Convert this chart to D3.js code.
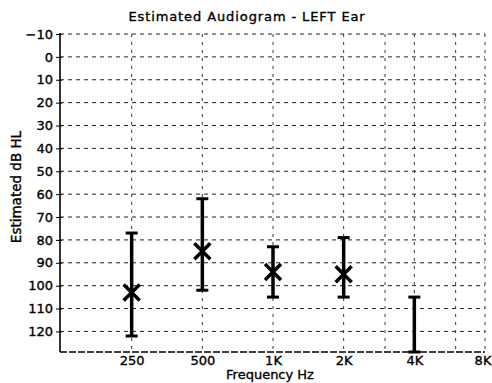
<!DOCTYPE html>
<html>
<head>
<meta charset="utf-8">
<script src="https://cdn.jsdelivr.net/npm/d3@7"></script>
<style>
  html, body { margin: 0; padding: 0; background: #fff; }
  svg { display: block; }
  text { font-family: "DejaVu Sans", sans-serif; fill: #000; stroke: #000; stroke-width: 0.35px; }
</style>
</head>
<body>
<svg id="chart" width="492" height="383"></svg>
<script>
// ---- data ----
const freqs = [250, 500, 1000, 2000, 4000];
const estimates = [103, 85, 94, 95, null];
const upperDb = [77, 62, 83, 79, 105];   // top of range (lower dB)
const lowerDb = [122, 102, 105, 105, 129]; // bottom of range (higher dB)
const xTickValues = [250, 500, 1000, 2000, 4000, 8000];
const xTickLabels = ["250", "500", "1K", "2K", "4K", "8K"];
const xGridValues = [250, 500, 1000, 2000, 3000, 4000, 6000, 8000];
const yTickValues = [-10, 0, 10, 20, 30, 40, 50, 60, 70, 80, 90, 100, 110, 120];

// ---- layout ----
const svg = d3.select("#chart");
const x = d3.scaleLog().base(2).domain([125, 8000]).range([61, 485]);
const y = d3.scaleLinear().domain([-10, 129]).range([34, 352]);
const pLeft = 60, pTop = 34, pBottom = 352, pRight = 485;

// title
svg.append("text")
  .attr("x", 247).attr("y", 21)
  .attr("text-anchor", "middle")
  .style("font-size", "13px")
  .style("letter-spacing", "0.9px")
  .text("Estimated Audiogram - LEFT Ear");

// horizontal grid
svg.append("g").selectAll("line").data(yTickValues).join("line")
  .attr("x1", pLeft).attr("x2", pRight)
  .attr("y1", d => y(d)).attr("y2", d => y(d))
  .attr("stroke", "#222").attr("stroke-width", 1)
  .attr("stroke-dasharray", "4,4");

// vertical grid
svg.append("g").selectAll("line").data(xGridValues).join("line")
  .attr("x1", d => x(d)).attr("x2", d => x(d))
  .attr("y1", pTop).attr("y2", pBottom)
  .attr("stroke", "#333").attr("stroke-width", 1)
  .attr("stroke-dasharray", "3,5");

// bottom border (dashed)
svg.append("line")
  .attr("x1", pLeft).attr("x2", pRight).attr("y1", pBottom).attr("y2", pBottom)
  .attr("stroke", "#000").attr("stroke-width", 1.6)
  .attr("stroke-dasharray", "7,2");

// left axis
const yAxis = d3.axisLeft(y).tickValues(yTickValues).tickSize(3).tickPadding(4);
const gy = svg.append("g").attr("transform", `translate(${pLeft},0)`).call(yAxis);
gy.select(".domain").attr("d", `M0,${pTop - 1}V${pBottom}`).attr("stroke", "#000").attr("stroke-width", 1.6);
gy.selectAll(".tick line").attr("x2", -4).attr("x1", 2).attr("stroke", "#000");
gy.selectAll(".tick text").style("font-size", "13px").attr("font-family", "DejaVu Sans").attr("fill", "#000");

// bottom axis labels
const xAxis = d3.axisBottom(x).tickValues(xTickValues)
  .tickFormat((d, i) => xTickLabels[i]).tickSize(0).tickPadding(4);
const gx = svg.append("g").attr("transform", `translate(0,${pBottom})`).call(xAxis);
gx.select(".domain").remove();
gx.selectAll(".tick text").style("font-size", "13px").attr("font-family", "DejaVu Sans").attr("fill", "#000")
  .attr("dx", d => d === 8000 ? -2.5 : 0);

// axis titles
svg.append("text")
  .attr("x", 270).attr("y", 379)
  .attr("text-anchor", "middle")
  .style("font-size", "13px")
  .text("Frequency Hz");
svg.append("text")
  .attr("transform", "translate(21,187) rotate(-90)")
  .attr("text-anchor", "middle")
  .style("font-size", "13.5px")
  .text("Estimated dB HL");

// error bars
const g = svg.append("g");
const capW = 6;
freqs.forEach((f, i) => {
  const cx = x(f);
  g.append("line").attr("x1", cx).attr("x2", cx)
    .attr("y1", y(upperDb[i])).attr("y2", y(lowerDb[i]))
    .attr("stroke", "#000").attr("stroke-width", 3.5);
  [upperDb[i], lowerDb[i]].forEach(v => {
    g.append("line").attr("x1", cx - capW).attr("x2", cx + capW)
      .attr("y1", y(v)).attr("y2", y(v))
      .attr("stroke", "#000").attr("stroke-width", 3);
  });
  if (estimates[i] != null) {
    const cy = y(estimates[i]);
    const s = 8;
    g.append("path")
      .attr("d", `M${cx - s},${cy - s}L${cx + s},${cy + s}M${cx - s},${cy + s}L${cx + s},${cy - s}`)
      .attr("stroke", "#000").attr("stroke-width", 3.5).attr("fill", "none");
  }
});
</script>
</body>
</html>
